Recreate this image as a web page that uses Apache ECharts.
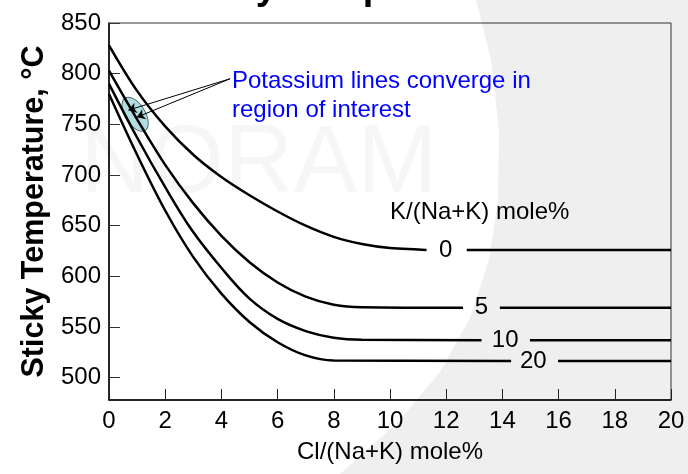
<!DOCTYPE html>
<html>
<head>
<meta charset="utf-8">
<script src="https://cdn.jsdelivr.net/npm/echarts@6/dist/echarts.min.js"></script>
<style>
  html, body { margin: 0; padding: 0; background: #fff; }
  #chart { width: 688px; height: 474px; }
</style>
</head>
<body>
<div id="chart"></div>
<script>
// curve data, null marks the gap left for the label
const x0 = [0, 1, 2, 3, 4, 5, 6, 7, 8, 9, 10, 11, 11.3, 12, 12.73, 16, 20];
const y0 = [828, 783, 748, 720, 698, 680, 664, 650, 639, 632, 628, 626.5, 626, null, 626, 626, 626];
const x5 = [0, 1, 2, 3, 4, 5, 6, 7, 8, 9, 12.6, 13.2, 13.91, 20];
const y5 = [803, 755, 710, 672, 640, 614, 594, 580, 572, 569.5, 569, null, 569, 569];
const x10 = [0, 1, 2, 2.94, 4.07, 5, 6, 7, 8, 9, 13.26, 14, 14.98, 20];
const y10 = [790, 737, 688, 646, 606, 578, 558, 546, 539.5, 537.5, 537, null, 537, 537];
const x20 = [0, 1, 2, 3, 4, 5, 6, 7, 8, 14.31, 15, 15.98, 20];
const y20 = [780, 720, 665, 619, 583, 555, 535, 522, 517, 516.5, null, 516.5, 516.5];

const curveNames = ["0", "5", "10", "20"];
const labelX = [11.98, 13.25, 14.1, 15.1];
const labelY = [626, 569, 537, 516];

const xTicks = [0, 2, 4, 6, 8, 10, 12, 14, 16, 18, 20];
const yTicks = [500, 550, 600, 650, 700, 750, 800, 850];

// annotation: arrows from the note to the ellipse
const arrowFrom = [4.31, 795];
const arrowTo = [[0.69, 764], [0.99, 757]];
const ellipseAt = [0.93, 760];

const chart = echarts.init(document.getElementById("chart"));

const pair = (xs, ys) => xs.map((x, i) => [x, ys[i] === null ? "-" : ys[i]]);

const curves = [pair(x0, y0), pair(x5, y5), pair(x10, y10), pair(x20, y20)];

const series = curves.map((data, i) => ({
    name: curveNames[i],
    type: "line",
    data: data,
    smooth: 0.35,
    showSymbol: false,
    connectNulls: false,
    lineStyle: { color: "#000", width: 2.5 },
    z: 5,
    markPoint: {
        symbol: "circle",
        symbolSize: 1,
        itemStyle: { color: "transparent" },
        label: {
            show: true, position: "inside", color: "#000",
            fontSize: 24, fontFamily: "Liberation Sans, Arial"
        },
        data: [{ coord: [labelX[i], labelY[i]], value: curveNames[i] }]
    }
}));

// arrows drawn as markLine on an empty series
series.push({
    type: "line",
    data: [],
    markLine: {
        silent: true,
        symbol: ["none", "arrow"],
        symbolSize: 8,
        label: { show: false },
        lineStyle: { color: "#000", width: 1, type: "solid" },
        data: arrowTo.map(p => [{ coord: arrowFrom }, { coord: p }])
    },
    z: 8
});

const txt = { fontFamily: "Liberation Sans, Arial", color: "#000" };

chart.setOption({
    animation: false,
    backgroundColor: "#fff",
    title: {
        text: "Sticky Temperature",
        left: 160,
        top: -35,
        textStyle: { ...txt, fontSize: 38, fontWeight: "bold" }
    },
    grid: {
        left: 109, right: 17, top: 23, bottom: 74,
        show: true, borderColor: "#333", borderWidth: 1,
        backgroundColor: "transparent"
    },
    xAxis: {
        type: "value",
        min: 0, max: 20, interval: 2,
        name: "Cl/(Na+K) mole%",
        nameLocation: "middle",
        nameGap: 40,
        nameTextStyle: { ...txt, fontSize: 24 },
        axisLine: { lineStyle: { color: "#000", width: 1.5 } },
        axisTick: { inside: true, length: 11, lineStyle: { color: "#222" } },
        axisLabel: { ...txt, fontSize: 24, margin: 9 },
        splitLine: { show: false }
    },
    yAxis: {
        type: "value",
        min: 478, max: 850,
        name: "Sticky Temperature, °C",
        nameLocation: "middle",
        nameGap: 58,
        nameTextStyle: { ...txt, fontSize: 30.5, fontWeight: "bold" },
        axisLine: { show: true, lineStyle: { color: "#000", width: 1.5 } },
        axisTick: { inside: true, length: 11, customValues: yTicks, lineStyle: { color: "#333" } },
        axisLabel: { ...txt, fontSize: 24, margin: 8, customValues: yTicks },
        splitLine: { show: false }
    },
    series: series
});

// decorations placed after the scales exist
const ec = chart.convertToPixel({ gridIndex: 0 }, ellipseAt);
chart.setOption({
    graphic: [
        {
            type: "polygon", z: -10, silent: true,
            shape: { points: [[476, 0], [688, 0], [688, 474], [340, 474], [398, 422], [440, 372],
                              [470, 318], [489, 260], [498, 200], [499, 130], [491, 60]] },
            style: { fill: "#efefef" }
        },
        {
            type: "text", z: -5, silent: true, left: 80, top: 118,
            style: { text: "NORAM", fill: "rgba(0,0,0,0.035)", font: "96px Liberation Sans, Arial" }
        },
        {
            type: "ellipse", z: 1, silent: true,
            x: ec[0], y: ec[1], rotation: 0.55,
            shape: { cx: 0, cy: 0, rx: 10, ry: 19 },
            style: { fill: "#b4dde2", stroke: "#4c6e74", lineWidth: 1 }
        },
        {
            type: "text", z: 60, left: 232, top: 67,
            style: {
                text: "Potassium lines converge in\nregion of interest",
                fill: "#0000ff", font: "24px Liberation Sans, Arial", lineHeight: 29
            }
        },
        {
            type: "text", z: 60, left: 390, top: 200,
            style: { text: "K/(Na+K) mole%", fill: "#000", font: "24px Liberation Sans, Arial" }
        }
    ]
});
</script>
</body>
</html>
